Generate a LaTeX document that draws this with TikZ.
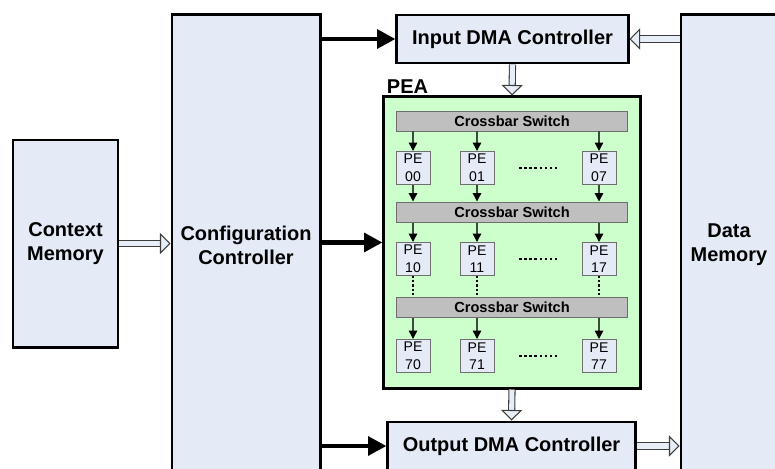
\documentclass[tikz,border=0pt]{standalone}
\usepackage{fontspec}
\setmainfont{Liberation Sans}
\usetikzlibrary{arrows.meta,positioning}
\definecolor{boxBlue}{HTML}{E4EBF6}
\definecolor{peaGreen}{HTML}{CCFFCC}
\definecolor{xbarGray}{HTML}{BFBFBF}
\definecolor{xbarEdge}{HTML}{6E6E6E}
\definecolor{flowGray}{HTML}{3F4A3F}
\definecolor{hollowEdge}{HTML}{3C3C3C}
\definecolor{hollowFill}{HTML}{E8EEF8}

\begin{document}
\begin{tikzpicture}[x=0.025cm, y=-0.025cm,
    block/.style={rectangle, draw=black, line width=2.1pt, fill=boxBlue, align=center,
                  inner sep=0pt, font=\fontsize{14.2}{17}\selectfont\bfseries},
    xbar/.style={rectangle, draw=xbarEdge, line width=0.7pt, fill=xbarGray, inner sep=0pt,
                 minimum width=5.75cm, minimum height=0.5cm, font=\fontsize{10.4}{12}\selectfont\bfseries},
    pe/.style={rectangle, draw=xbarEdge, line width=0.7pt, fill=boxBlue, align=center, inner sep=0pt,
               minimum width=0.85cm, minimum height=0.825cm, font=\fontsize{10}{12.5}\selectfont},
    feed/.style={line width=3.5pt, line cap=round, -{Triangle[length=13pt, width=13pt]}},
    flow/.style={draw=flowGray, line width=1pt, -{Triangle[length=6pt, width=6pt, color=black]}},
    chain/.style={draw=black, line width=1.2pt, dash pattern=on 1.5pt off 1.5pt},
    gap/.style={draw=black, line width=1pt, dash pattern=on 2pt off 1.6pt, shorten <=0.62cm, shorten >=0.62cm},
    hollow/.style={draw=hollowEdge, line width=0.75pt, double=hollowFill, double distance=3.6pt,
                   -{Triangle[length=7.5pt, width=15pt, fill=hollowFill, line width'=0.75pt]}}
  ]
  \useasboundingbox (0,0) rectangle (775,468);
  \clip (0,0) rectangle (775,468);

  \node[block, minimum width=2.625cm, minimum height=5.175cm] (ctx) at (65.5,243.5) {Context\\Memory};
  \node[block, minimum width=3.7cm, minimum height=11.5cm] (cfg) at (246,245) {Configuration\\Controller};
  \node[block, minimum width=2.4cm, minimum height=11.5cm] (dat) at (729,245) {Data\\Memory};
  \node[block, minimum width=5.775cm, minimum height=1.2cm] (idma) at (512.5,39) {Input DMA Controller};
  \node[block, minimum width=6.175cm, minimum height=1.2cm] (odma) at (511.5,446) {Output DMA Controller};

  \node[block, fill=peaGreen, minimum width=6.4cm, minimum height=7.275cm] (pea) at (512,242.5) {};
  \node[anchor=south west, inner sep=1pt, xshift=2pt, font=\fontsize{14.2}{17}\selectfont\bfseries] (pealbl) at (pea.north west) {PEA};

  \node[xbar] (xb0) at (512,121) {Crossbar Switch};
  \node[xbar] (xb1) at (512,212) {Crossbar Switch};
  \node[xbar] (xb7) at (512,307) {Crossbar Switch};

  \foreach \r/\y in {0/168,1/259,7/356} {
    \foreach \c/\x in {0/413,1/477,7/599} {
      \node[pe] (pe\r\c) at (\x,\y) {PE\\\r\c};
    }
    \draw[gap] (pe\r1.east) -- (pe\r7.west);
  }

  \foreach \c in {0,1,7} {
    \draw[flow] (pe0\c.north |- xb0.south) -- (pe0\c.north);
    \draw[flow] (pe0\c.south) -- (pe0\c.south |- xb1.north);
    \draw[flow] (pe1\c.north |- xb1.south) -- (pe1\c.north);
    \draw[chain] (pe1\c.south) -- (pe1\c.south |- xb7.north);
    \draw[flow] (pe7\c.north |- xb7.south) -- (pe7\c.north);
  }

  \draw[feed] (cfg.east |- idma.west) -- (idma.west);
  \draw[feed] (cfg.east |- pea.west) -- (pea.west);
  \draw[feed] (cfg.east |- odma.west) -- (odma.west);

  \draw[hollow] (ctx.east) -- (cfg.west |- ctx.east);
  \draw[hollow] (dat.west |- idma.east) -- (idma.east);
  \draw[hollow] (idma.south) -- (pea.north);
  \draw[hollow] (pea.south) -- (odma.north);
  \draw[hollow] (odma.east) -- (dat.west |- odma.east);
\end{tikzpicture}
\end{document}
